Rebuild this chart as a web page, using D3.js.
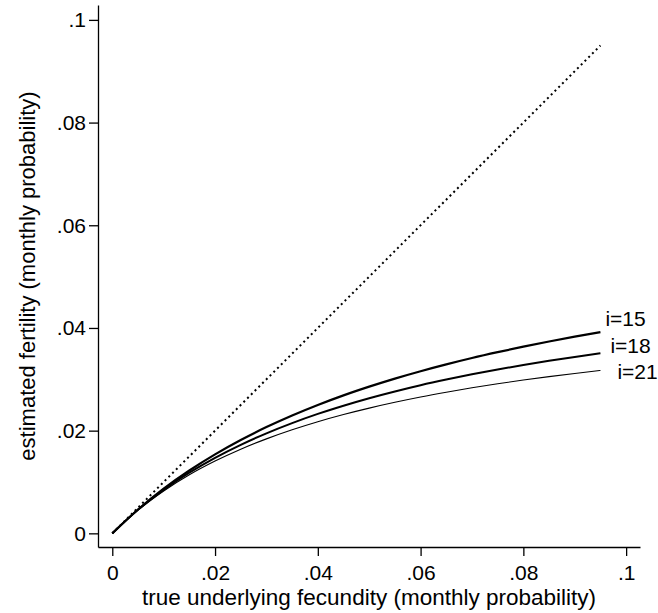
<!DOCTYPE html>
<html>
<head>
<meta charset="utf-8">
<title>fertility vs fecundity</title>
<style>
body { margin:0; background:#fff; }
svg text { font-family:"Liberation Sans", Arial, Helvetica, sans-serif; fill:#000; }
.axis path, .axis line { stroke:#000; stroke-width:1.3px; }
</style>
</head>
<body>
<svg id="chart" width="658" height="613"></svg>
<script src="https://d3js.org/d3.v7.min.js"></script>
<script>

// true fecundity (x) at which the curves were read
let fecundity = [0, 0.005, 0.01, 0.015, 0.02, 0.025, 0.03, 0.035, 0.04, 0.045,
                 0.05, 0.055, 0.06, 0.065, 0.07, 0.075, 0.08, 0.085, 0.09, 0.095];

let fert15 = [0, 0.00465, 0.0087, 0.01224, 0.01538, 0.01818, 0.02069, 0.02295, 0.025, 0.02687,
              0.02857, 0.03014, 0.03158, 0.03291, 0.03415, 0.03529, 0.03636, 0.03736, 0.0383, 0.03918];
let fert18 = [0, 0.00459, 0.00847, 0.01181, 0.01471, 0.01724, 0.01948, 0.02147, 0.02326, 0.02486,
              0.02632, 0.02764, 0.02885, 0.02995, 0.03097, 0.03191, 0.03279, 0.0336, 0.03435, 0.03506];
let fert21 = [0, 0.00452, 0.00826, 0.01141, 0.01408, 0.01639, 0.0184, 0.02017, 0.02174, 0.02314,
              0.02439, 0.02552, 0.02655, 0.02748, 0.02834, 0.02913, 0.02985, 0.03052, 0.03114, 0.03172];

// 45 degree reference line
let diagX = [0, 0.095],
    diagY = [0, 0.095];

let seriesNames = ["i=15", "i=18", "i=21"];
let xTicks = [0, 0.02, 0.04, 0.06, 0.08, 0.1],
    yTicks = [0, 0.02, 0.04, 0.06, 0.08, 0.1];

let svg = d3.select("#chart");

// axes run a little past the data range, Stata style
let x = d3.scaleLinear().domain([-0.00278, 0.1027]).range([98, 640]),
    y = d3.scaleLinear().domain([-0.00266, 0.1029]).range([547, 5]);

let fmt = function(d) { return d === 0 ? "0" : d3.format(".2~f")(d).replace(/^0/, ""); };

svg.append("g")
    .attr("class", "axis")
    .attr("transform", "translate(0,547)")
    .call(d3.axisBottom(x).tickValues(xTicks).tickFormat(fmt).tickSize(9).tickSizeOuter(0).tickPadding(9));

svg.append("g")
    .attr("class", "axis")
    .attr("transform", "translate(98,0)")
    .call(d3.axisLeft(y).tickValues(yTicks).tickFormat(fmt).tickSize(9).tickSizeOuter(0).tickPadding(3));

svg.selectAll(".axis text").style("font-size", "21px");

svg.append("text")
    .attr("x", 369)
    .attr("y", 605)
    .attr("text-anchor", "middle")
    .style("font-size", "22.5px")
    .text("true underlying fecundity (monthly probability)");

svg.append("text")
    .attr("transform", "translate(35,276) rotate(-90)")
    .attr("text-anchor", "middle")
    .style("font-size", "22px")
    .text("estimated fertility (monthly probability)");

// dotted diagonal
let diag = d3.line()
    .x(function(d, i) { return x(diagX[i]); })
    .y(function(d, i) { return y(diagY[i]); });

svg.append("path")
    .attr("d", diag(diagX))
    .attr("fill", "none")
    .attr("stroke", "#000")
    .attr("stroke-width", 2)
    .attr("stroke-dasharray", "2,3.3");

let series = [
  {name: seriesNames[0], vals: fert15, w: 2.2, dx: 5, dy: -6.5},
  {name: seriesNames[1], vals: fert18, w: 2.0, dx: 10, dy: -0.5},
  {name: seriesNames[2], vals: fert21, w: 1.1, dx: 17, dy: 9}
];

let line = d3.line()
    .curve(d3.curveMonotoneX)
    .x(function(d, i) { return x(fecundity[i]); })
    .y(function(d) { return y(d); });

series.forEach(function(s) {
  svg.append("path")
    .attr("d", line(s.vals))
    .attr("fill", "none")
    .attr("stroke", "#000")
    .attr("stroke-width", s.w);

  let last = s.vals.length - 1;
  svg.append("text")
    .attr("x", x(fecundity[last]) + s.dx)
    .attr("y", y(s.vals[last]) + s.dy)
    .style("font-size", "21px")
    .text(s.name);
});

</script>
</body>
</html>
